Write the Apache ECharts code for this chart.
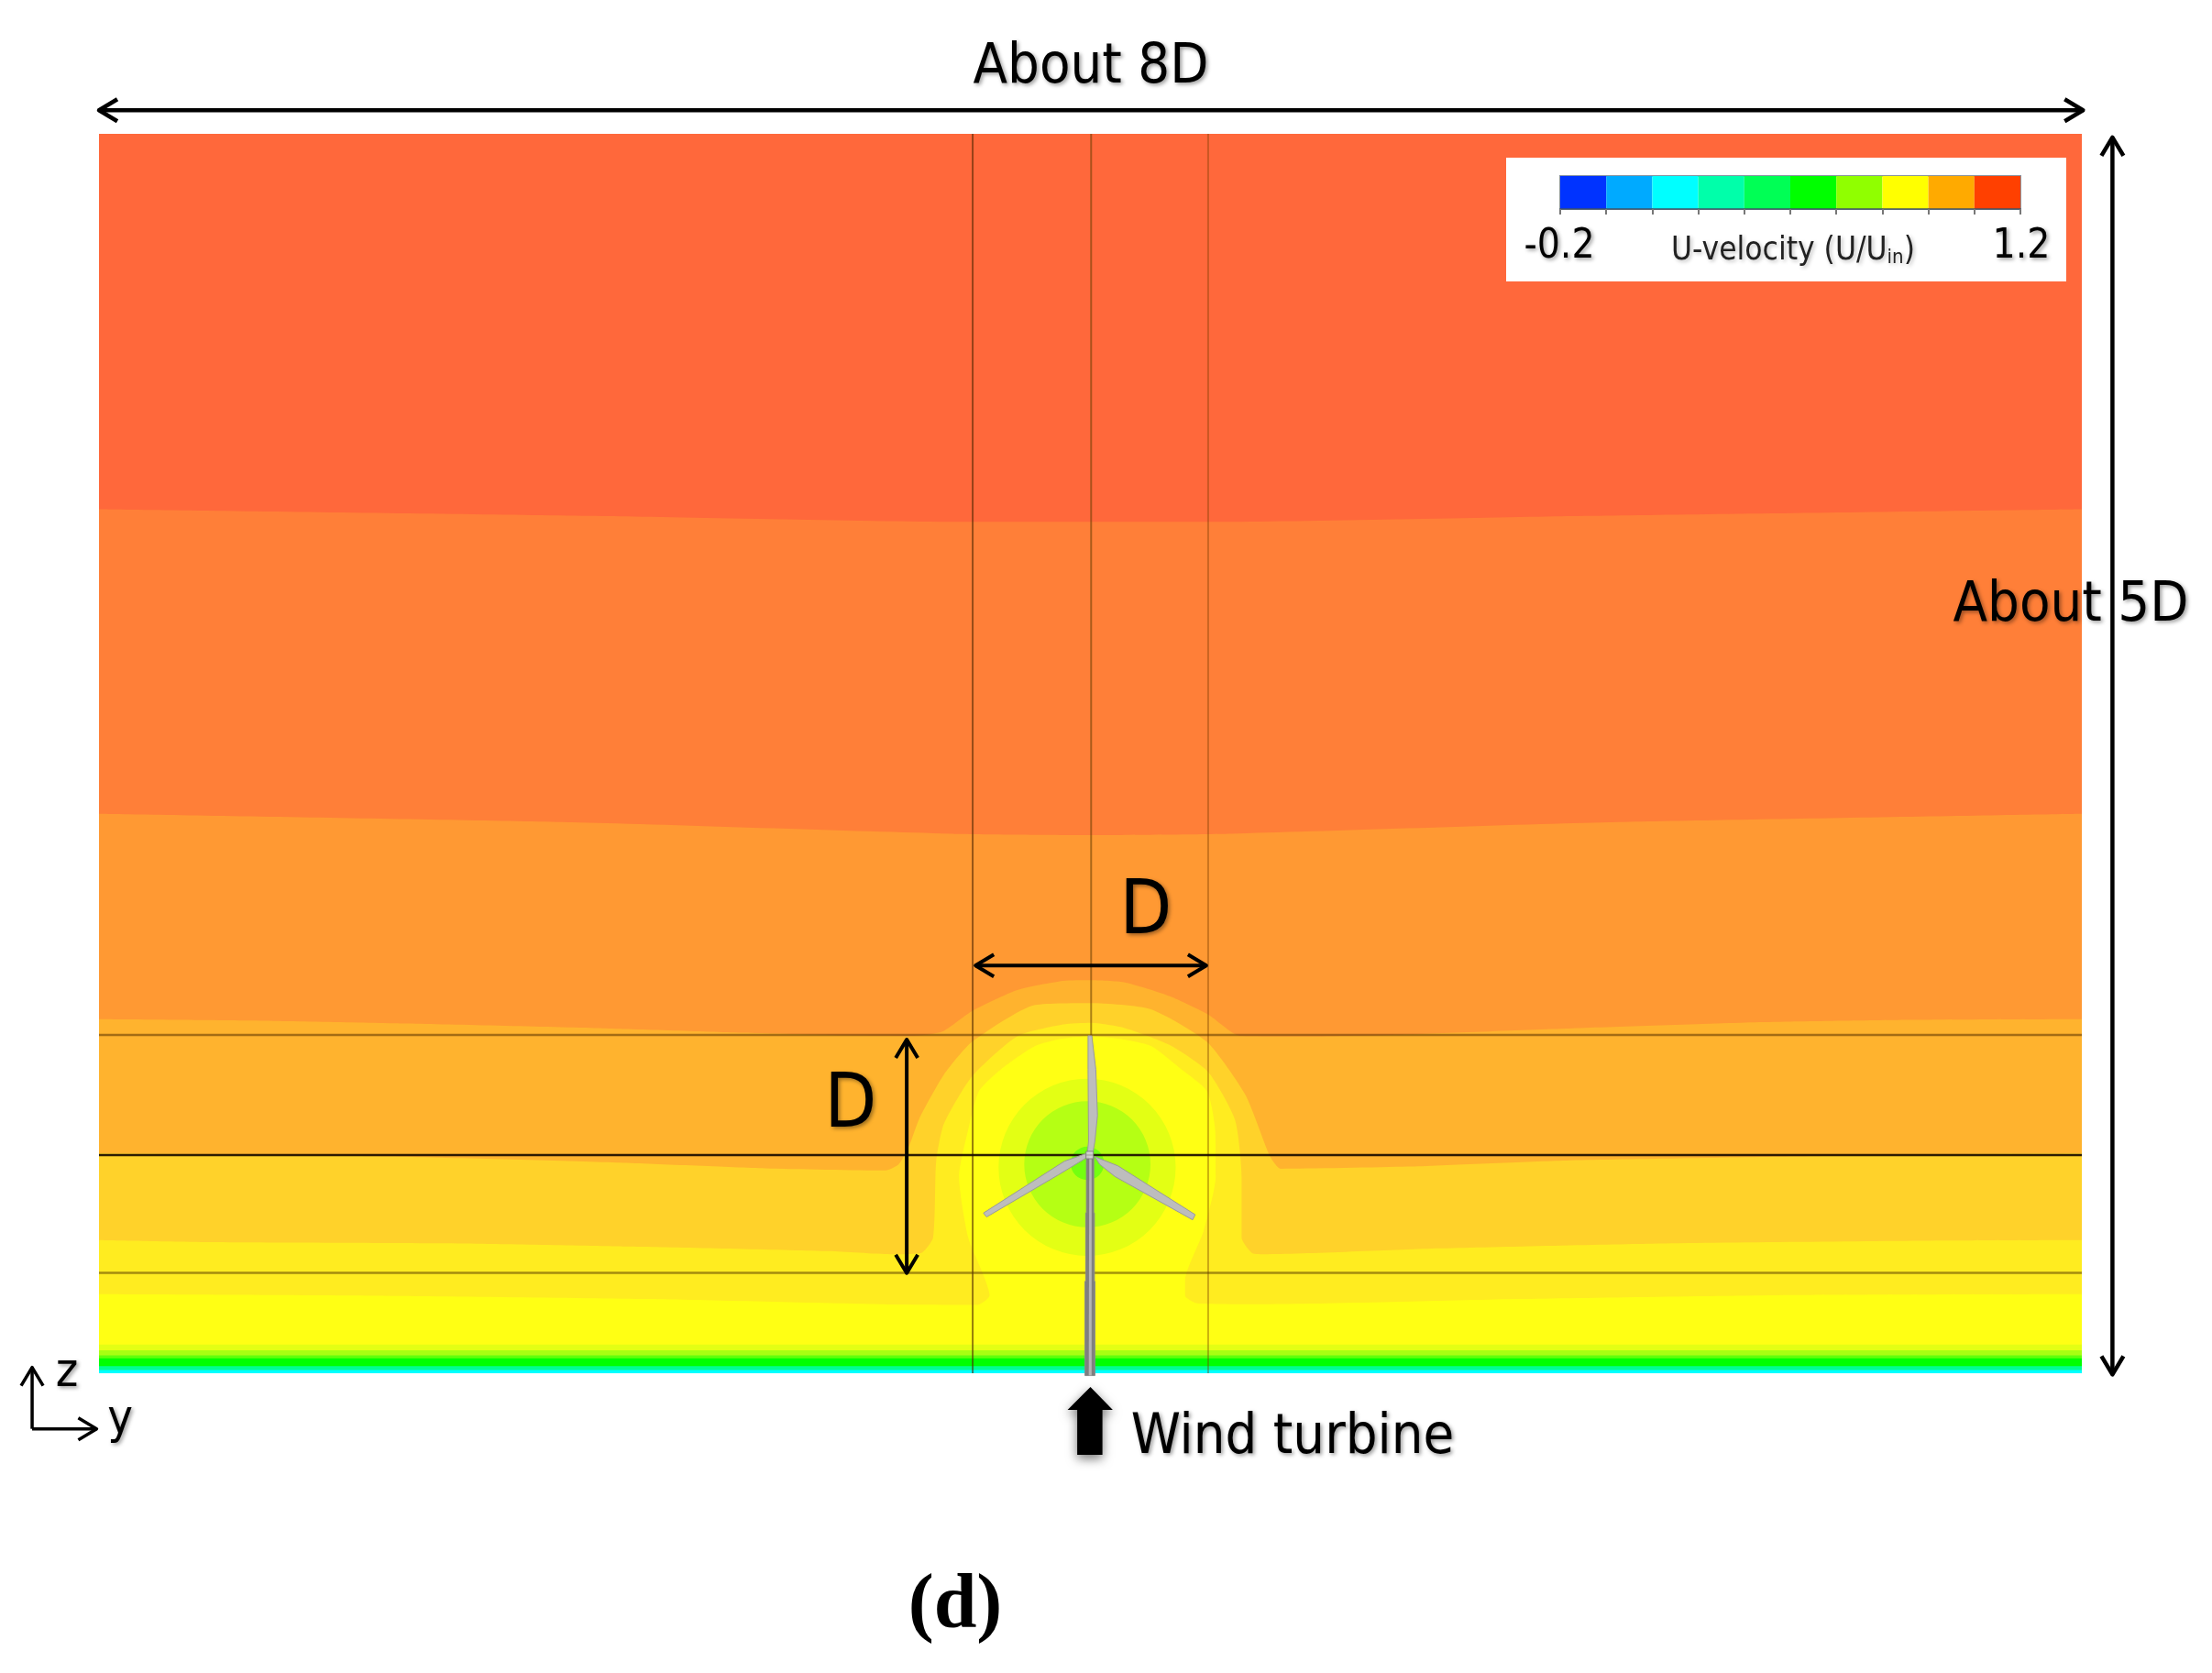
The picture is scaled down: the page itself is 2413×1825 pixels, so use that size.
<!DOCTYPE html>
<html>
<head>
<meta charset="utf-8">
<title>U-velocity contour</title>
<style>
html, body { margin: 0; padding: 0; background: #fff; }
#main { width: 2413px; height: 1825px; }
</style>
<script src="https://cdn.jsdelivr.net/npm/echarts@6/dist/echarts.min.js"></script>
</head>
<body>
<div id="main"></div>
<script>
// data units: D = 100, y = 0 on the tower, z = 0 on the ground
var bandTop = [[-421, 526], [421, 526]];
var band2 = [[-421, 366.7], [-200, 363.7], [-50, 361.3], [50, 361.3], [200, 363.7], [421, 366.7]];
var band3 = [[-421, 237.4], [-220, 233.8], [-60, 229], [0, 228.4], [60, 229], [220, 233.8], [421, 237.4]];
var band4 = [[-421, 150.3], [-357, 149.7], [-290, 148.4], [-207, 146.4], [-147, 144.5], [-111, 143.6], [-75, 143.2],
    [-62.9, 145], [-50.6, 153.5], [-31.1, 162.6], [-11.7, 166.5], [0, 166.8], [14.3, 165.9], [33.7, 160], [49.9, 152.3],
    [63.5, 143.2], [90, 143], [128, 143.6], [204.8, 146.4], [285.7, 149], [348.6, 150], [421, 150.3]];
var band5 = [[-421, 93.4], [-297, 92], [-201, 89.4], [-138, 87], [-87, 86.1], [-81.4, 88.7], [-77, 96.5], [-72.6, 108.2],
    [-62.2, 126.7], [-50.3, 140.6], [-23.5, 156.3], [0.4, 157.1], [25.7, 154.5], [49.5, 140.6], [65.9, 118], [76.3, 92],
    [80.8, 86.8], [134.8, 87.7], [202, 90.3], [299, 92], [367, 93], [421, 93.4]];
var band6 = [[-421, 56.5], [-373, 55.6], [-261, 55], [-189.5, 53.7], [-111, 51.8], [-85, 50.5], [-72, 51], [-66.8, 57.6],
    [-65.5, 90], [-62.2, 105.9], [-50.3, 126], [-31.1, 143], [-11.7, 148], [0, 148.7], [14.3, 146.6], [33.7, 139.3],
    [49.9, 128], [61.4, 107.6], [64.2, 83.5], [64.2, 57.6], [68.7, 51], [74, 50.5], [148, 53], [238.6, 55], [364.6, 56.3], [421, 56.5]];
var band7 = [[-421, 33.6], [-312, 33], [-187.5, 31.5], [-89.5, 29.3], [-48, 29], [-42.8, 33], [-51.9, 57.6], [-55.8, 83.5],
    [-51.5, 105], [-47.3, 119.8], [-38, 129], [-23.5, 138.9], [-12, 142], [0, 143.2], [12, 142], [25.7, 138.9], [38, 129.5],
    [49.5, 119.8], [53, 103], [53.2, 83.5], [48, 60.2], [40.2, 39.4], [40.2, 32.9], [45.4, 29.7], [74, 29.3], [182, 31.5], [299, 33.2], [421, 33.6]];
var groundLevels = [12.2, 9.7, 7.6, 6.3, 3, 1.4];
var bandColors = ['#FF683B', '#FF7F38', '#FF9933', '#FFB32E', '#FFD22A', '#FFEC20', '#FFFF14'];
var groundColors = ['#E3FF14', '#A8FF12', '#60FF0C', '#00FF00', '#00FF90', '#00FFFF'];

// wake core, [y, z, radius]
var wakeCircles = [[-1.4, 87.4, 37.6], [-1.3, 88.7, 26.8], [-1.3, 89.1, 7.1]];
var wakeColors = ['#E3FF14', '#B5FF14', '#74FF10'];

var meshY = [-50, 0.3, 50];
var meshZ = [143.6, 92.6, 42.6];

var towerOuter = [[-2.3, -1], [1.9, -1], [1.9, 39], [1.7, 39], [1.7, 68], [1.4, 68], [1.4, 92], [-1.7, 92], [-1.7, 68], [-2, 68], [-2, 39], [-2.3, 39]];
var towerInner = [[-0.7, -1], [0.5, -1], [0.5, 92], [-0.5, 92]];
var bladeUp = [[-1, 143.2], [0.6, 143.2], [2.3, 128.9], [3, 109.4], [1.9, 98.4], [1, 93.2], [-1.3, 93.2], [-0.8, 98.4], [-1, 128.9]];
var bladeLeft = [[-45.4, 68], [-44.1, 66.3], [-13.6, 84.2], [-1.9, 91.3], [-1.9, 93.2], [-11, 90]];
var bladeRight = [[1.9, 91.9], [11.7, 88], [44.5, 67.3], [43.4, 65.1], [10.4, 83.5], [3.9, 88.7]];
var turbineHub = [[-0.3, 92.6]];
var turbinePointer = [[0, -5.8], [9.5, -15.6], [5.1, -15.6], [5.1, -34.6], [-5.6, -34.6], [-5.6, -15.6], [-9.7, -15.6]];

// dimension arrows [y1, z1, y2, z2, both ends, line width]
var dimArrows = [
    [-421, 536, 421.5, 536, 1, 4.5],
    [434, 524.5, 434, -0.5, 1, 4.5],
    [-48.8, 173, 49.2, 173, 1, 4],
    [-78, 141.6, -78, 42.5, 1, 4],
    [-449.4, -23.6, -449.4, 2.5, 0, 3.5],
    [-449.4, -23.6, -422, -23.6, 0, 3.5]
];

var legendBins = [1, 1, 1, 1, 1, 1, 1, 1, 1, 1];
var legendNames = ['b1', 'b2', 'b3', 'b4', 'b5', 'b6', 'b7', 'b8', 'b9', 'b10'];
var legendColors = ['#0033FF', '#00AAFF', '#00FFFF', '#00FFAA', '#00FF55', '#00FF00', '#90FF00', '#FFFF00', '#FFAA00', '#FF4000'];
var legendTickLabels = ['-0.2', '1.2'];

var labelFont = '"DejaVu Sans Condensed", "DejaVu Sans", sans-serif';

function areaLine(points, color) {
    return {
        type : 'line',
        data : points,
        smooth : 0.2,
        showSymbol : false,
        silent : true,
        animation : false,
        lineStyle : { width : 0 },
        areaStyle : { origin : 'start', color : color, opacity : 1 }
    };
}

function flatLine(points, color, width) {
    return {
        type : 'line',
        data : points,
        showSymbol : false,
        silent : true,
        animation : false,
        z : 3.5,
        lineStyle : { color : color, width : width }
    };
}

function polyShape(points, api, fill, stroke) {
    return {
        type : 'polygon',
        shape : { points : points.map(function(p) { return api.coord(p); }) },
        style : { fill : fill, stroke : stroke, lineWidth : 1 }
    };
}

function renderTurbine(params, api) {
    return {
        type : 'group',
        children : [
            polyShape(towerOuter, api, '#7f7f7f', '#8a8a8a'),
            polyShape(towerInner, api, '#b4b4b4', null),
            polyShape(bladeUp, api, '#bdbdbd', '#9a9a9a'),
            polyShape(bladeLeft, api, '#bdbdbd', '#9a9a9a'),
            polyShape(bladeRight, api, '#bdbdbd', '#9a9a9a')
        ]
    };
}

function renderPointer(params, api) {
    var shape = polyShape(turbinePointer, api, '#000', null);
    shape.style.shadowColor = 'rgba(0,0,0,0.55)';
    shape.style.shadowBlur = 12;
    shape.style.shadowOffsetY = 4;
    return shape;
}

function renderCircle(params, api) {
    var c = wakeCircles[params.dataIndex];
    var p = api.coord([c[0], c[1]]);
    return {
        type : 'circle',
        shape : { cx : p[0], cy : p[1], r : api.size([c[2], 0], [c[0], c[1]])[0] },
        style : { fill : wakeColors[params.dataIndex] }
    };
}

function chevron(tip, from) {
    var dx = from[0] - tip[0], dy = from[1] - tip[1];
    var len = Math.sqrt(dx * dx + dy * dy);
    var ux = dx / len, uy = dy / len;
    return [
        [tip[0] + ux * 20 - uy * 12, tip[1] + uy * 20 + ux * 12],
        tip,
        [tip[0] + ux * 20 + uy * 12, tip[1] + uy * 20 - ux * 12]
    ];
}

function renderArrow(params, api) {
    var d = dimArrows[params.dataIndex];
    var a = api.coord([d[0], d[1]]);
    var b = api.coord([d[2], d[3]]);
    var style = { stroke : '#000', lineWidth : d[5], fill : 'none', lineJoin : 'round' };
    var kids = [
        { type : 'polyline', shape : { points : [a, b] }, style : style },
        { type : 'polyline', shape : { points : chevron(b, a) }, style : style }
    ];
    if (d[4]) {
        kids.push({ type : 'polyline', shape : { points : chevron(a, b) }, style : style });
    }
    return { type : 'group', children : kids };
}

function label(text, x, y, size, family, extra) {
    var style = {
        text : text,
        fill : '#000',
        fontSize : size,
        fontFamily : family || labelFont,
        align : 'center',
        verticalAlign : 'middle',
        textShadowColor : 'rgba(0,0,0,0.4)',
        textShadowBlur : 4,
        textShadowOffsetX : 2,
        textShadowOffsetY : 2
    };
    for (var k in extra) {
        style[k] = extra[k];
    }
    return { type : 'text', x : x, y : y, z : 20, silent : true, style : style };
}

var series = [];
var bands = [bandTop, band2, band3, band4, band5, band6, band7];
bands.forEach(function(b, i) {
    series.push(areaLine(b, bandColors[i]));
});
groundLevels.forEach(function(level, i) {
    series.push(areaLine([[-421, level], [421, level]], groundColors[i]));
});
series.push({
    type : 'custom',
    renderItem : renderCircle,
    data : wakeCircles,
    silent : true,
    animation : false,
    z : 3
});
meshY.forEach(function(y, i) {
    series.push(flatLine([[y, 0], [y, 526]], ['rgba(80,40,0,0.6)', 'rgba(100,60,0,0.55)', 'rgba(120,60,0,0.4)'][i], 2));
});
meshZ.forEach(function(z, i) {
    series.push(flatLine([[-421, z], [421, z]], ['rgba(90,50,0,0.55)', 'rgba(25,12,0,0.92)', 'rgba(90,60,0,0.55)'][i], 2.5));
});
series.push({
    type : 'custom',
    renderItem : renderTurbine,
    data : [0],
    silent : true,
    animation : false,
    z : 4
});
series.push({
    type : 'scatter',
    data : turbineHub,
    symbol : 'rect',
    symbolSize : 8,
    silent : true,
    animation : false,
    z : 5,
    itemStyle : { color : '#dcdcdc', borderColor : '#777', borderWidth : 1 }
});
series.push({
    type : 'custom',
    renderItem : renderPointer,
    data : [0],
    silent : true,
    animation : false,
    z : 4
});
series.push({
    type : 'custom',
    renderItem : renderArrow,
    data : dimArrows,
    silent : true,
    animation : false,
    z : 5
});
series.push({
    type : 'bar',
    xAxisIndex : 1,
    yAxisIndex : 1,
    data : legendBins.map(function(v, i) {
        return { value : v, itemStyle : { color : legendColors[i] } };
    }),
    barWidth : '100%',
    silent : true,
    animation : false,
    z : 8
});

var myChart = echarts.init(document.getElementById('main'), null, { renderer : 'canvas' });
myChart.setOption({
    backgroundColor : '#fff',
    animation : false,
    grid : [
        { left : 108, top : 146, width : 2163, height : 1352 },
        { left : 1702, top : 192, width : 502, height : 36, show : true, z : 8, borderColor : 'rgba(60,80,100,0.6)', borderWidth : 2, backgroundColor : 'transparent' }
    ],
    xAxis : [
        { type : 'value', min : -421, max : 421, show : false },
        {
            type : 'category',
            gridIndex : 1,
            data : legendNames,
            z : 9,
            axisLine : { lineStyle : { color : 'rgba(60,80,100,0.7)', width : 2 } },
            axisTick : { show : true, length : 6, lineStyle : { color : '#777', width : 2 } },
            axisLabel : { show : false }
        }
    ],
    yAxis : [
        { type : 'value', min : 0, max : 526, show : false },
        { type : 'value', gridIndex : 1, min : 0, max : 1, show : false }
    ],
    series : series,
    graphic : [
        { type : 'rect', shape : { x : 1643, y : 172, width : 611, height : 135 }, style : { fill : '#fff' }, z : 6, silent : true },
        label('About 8D', 1190, 74, 61),
        label('About 5D', 2259, 661, 61),
        label('D', 1250, 997, 82),
        label('D', 928, 1208, 82),
        label('Wind turbine', 1410, 1569, 61),
        label('z', 73, 1498, 52),
        label('y', 131, 1549, 52),
        label('(d)', 1042, 1753, 84, '"Liberation Serif", serif', { fontWeight : 'bold', textShadowColor : 'transparent' }),
        label(legendTickLabels[0], 1701, 270, 44),
        label(legendTickLabels[1], 2205, 270, 44),
        label('{a|U-velocity (U/U}{b|in}{a|)}', 1956, 274, 35, null, {
            rich : {
                a : { fontSize : 35, fontFamily : labelFont, fill : '#222' },
                b : { fontSize : 22, fontFamily : labelFont, fill : '#222', verticalAlign : 'bottom', padding : [14, 0, 0, 0] }
            },
            textShadowColor : 'rgba(0,0,0,0.25)'
        })
    ]
});
</script>
</body>
</html>
